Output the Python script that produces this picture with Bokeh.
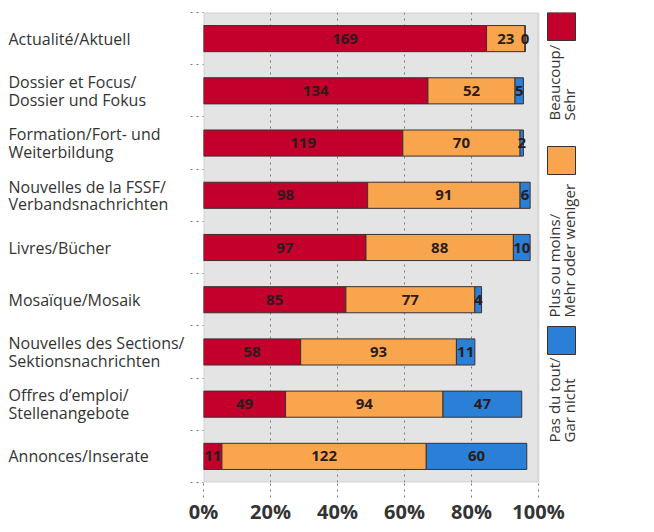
import math
from bokeh.plotting import figure
from bokeh.models import Range1d, FixedTicker, BoxAnnotation
from bokeh.layouts import row
from bokeh.embed import file_html
from bokeh.resources import INLINE
from bokeh.core.properties import value

# ---------------- data ----------------
categories = [
    "Actualité/Aktuell",
    "Dossier et Focus/\nDossier und Fokus",
    "Formation/Fort- und\nWeiterbildung",
    "Nouvelles de la FSSF/\nVerbandsnachrichten",
    "Livres/Bücher",
    "Mosaïque/Mosaik",
    "Nouvelles des Sections/\nSektionsnachrichten",
    "Offres d’emploi/\nStellenangebote",
    "Annonces/Inserate",
]
beaucoup = [169, 134, 119, 98, 97, 85, 58, 49, 11]
plus_ou_moins = [23, 52, 70, 91, 88, 77, 93, 94, 122]
pas_du_tout = [0, 5, 2, 6, 10, 4, 11, 47, 60]
TOTAL = 200  # respondents (bars are % of all respondents)
x_ticks = [0, 20, 40, 60, 80, 100]
series_names = ["Beaucoup/\nSehr", "Plus ou moins/\nMehr oder weniger", "Pas du tout/\nGar nicht"]
series_colors = ["#c2002b", "#f9a54d", "#2a80d6"]

FONT = "Open Sans"
series = [beaucoup, plus_ou_moins, pas_du_tout]
n = len(categories)
ys = [i + 0.5 for i in range(n)]

W_TOTAL, H = 654, 532
BT, BB = 12, 50       # frame page y 12..482
W_LAB = 188           # label panel: page x 0..188
W_MAIN = W_TOTAL - W_LAB
BL = 15               # frame left at page x 203
PLOT_W = 335          # width of the 0..100 % area
FRAME_W = W_MAIN - BL
XMAX = 100 * FRAME_W / PLOT_W

# ---------------- label panel ----------------
lab = figure(width=W_LAB, height=H, x_range=Range1d(0, W_LAB), y_range=Range1d(n, 0),
             output_backend="svg", toolbar_location=None,
             min_border_left=0, min_border_right=0, min_border_top=BT, min_border_bottom=BB)
lab.axis.visible = False
lab.grid.visible = False
lab.outline_line_color = None
row_px = (H - BT - BB) / n
line_gap = 17.5 / row_px
lx, ly, lt = [], [], []
for yc, cat in zip(ys, categories):
    lines = cat.split("\n")
    k = len(lines)
    for j, ln in enumerate(lines):
        lx.append(8)
        ly.append(yc + (j - (k - 1) / 2) * line_gap)
        lt.append(ln)
lab.text(x=lx, y=ly, text=lt, text_align="left", text_baseline="middle",
         text_font=value(FONT), text_font_size="16px", text_color="#333333")

# ---------------- main chart ----------------
p = figure(width=W_MAIN, height=H, x_range=Range1d(0, XMAX), y_range=Range1d(n, 0),
           output_backend="svg", toolbar_location=None,
           min_border_left=BL, min_border_right=0, min_border_top=BT, min_border_bottom=BB)
p.background_fill_color = "white"
p.border_fill_color = "white"
p.outline_line_color = None

# plot area (0..100 %) background and frame
p.add_layout(BoxAnnotation(left=0, right=100, top=0, bottom=n, fill_color="#e4e4e4",
                           fill_alpha=1, line_color="#9c9c9c", line_width=2,
                           level="image"))

left = [0.0] * n
for vals, col in zip(series, series_colors):
    pct = [v / TOTAL * 100 for v in vals]
    right = [l + q for l, q in zip(left, pct)]
    p.hbar(y=ys, left=left, right=right, height=0.5, fill_color=col,
           line_color="#3a3030", line_width=1)
    mids = [(l + r) / 2 for l, r in zip(left, right)]
    p.text(x=mids, y=ys, text=[str(v) for v in vals], text_align="center",
           text_baseline="middle", text_font=value(FONT), text_font_style="bold",
           text_font_size="15px", text_color="#2b1c1c")
    left = right

# x axis
p.xaxis.ticker = FixedTicker(ticks=x_ticks)
p.xaxis.major_label_overrides = {t: f"{t}%" for t in x_ticks}
p.xaxis.major_label_text_font = FONT
p.xaxis.major_label_text_font_size = "20px"
p.xaxis.major_label_text_font_style = "bold"
p.xaxis.major_label_text_color = "#333333"
p.xaxis.major_tick_out = 15
p.xaxis.major_tick_in = 0
p.xaxis.major_tick_line_dash = "dotted"
p.xaxis.major_tick_line_color = "#777777"
p.xaxis.minor_tick_out = 0
p.xaxis.minor_tick_in = 0
p.xaxis.axis_line_color = None
p.xaxis.major_label_standoff = 0

# y axis: ticks at category boundaries, no labels
p.yaxis.ticker = FixedTicker(ticks=list(range(n + 1)))
p.yaxis.major_label_text_font_size = "0px"
p.yaxis.major_label_text_color = None
p.yaxis.major_tick_out = 13
p.yaxis.major_tick_in = 0
p.yaxis.major_tick_line_dash = "dotted"
p.yaxis.major_tick_line_color = "#777777"
p.yaxis.minor_tick_out = 0
p.yaxis.minor_tick_in = 0
p.yaxis.axis_line_color = None

p.xgrid.ticker = FixedTicker(ticks=x_ticks[1:-1])
p.xgrid.grid_line_dash = "dotted"
p.xgrid.grid_line_color = "#7a7a7a"
p.ygrid.visible = False

# ---------------- legend (right of the plot area, page-pixel ranges) ----------------
p.extra_x_ranges = {"px": Range1d(W_LAB + BL, W_TOTAL)}
p.extra_y_ranges = {"py": Range1d(H - BB, BT)}
sq_top = [12, 146, 326]
sq_size = 28
txt_start = [120, 317, 442]
p.quad(left=[547] * 3, right=[547 + sq_size] * 3, top=sq_top,
       bottom=[t + sq_size for t in sq_top], fill_color=series_colors,
       line_color="#3a3030", line_width=1, x_range_name="px", y_range_name="py")
tx, ty, tt = [], [], []
for name, s in zip(series_names, txt_start):
    for j, ln in enumerate(name.split("\n")):
        tx.append(553 + j * 15)
        ty.append(s)
        tt.append(ln)
p.text(x=tx, y=ty, text=tt, angle=math.pi / 2, text_align="left",
       text_baseline="middle", text_font=value(FONT), text_font_size="15px",
       text_color="#333333", x_range_name="px", y_range_name="py")

layout = row(lab, p, spacing=0)
open("out.html", "w").write(file_html(layout, INLINE))
